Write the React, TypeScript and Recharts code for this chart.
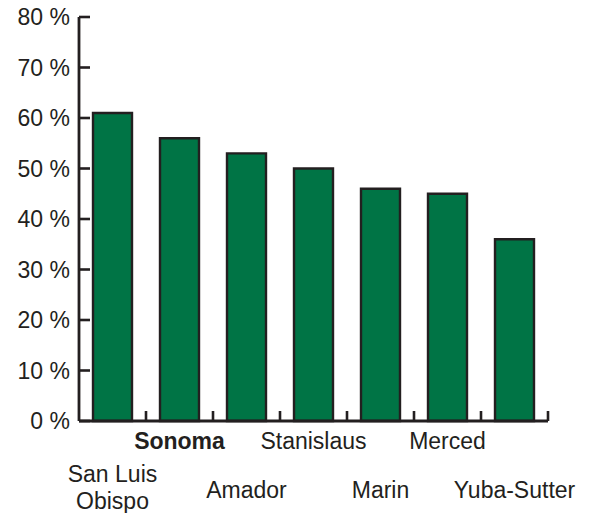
import React from "react";
import { BarChart, Bar, XAxis, YAxis } from "recharts";

const categories = ["San Luis Obispo", "Sonoma", "Amador", "Stanislaus", "Marin", "Merced", "Yuba-Sutter"];
const values = [61, 56, 53, 50, 46, 45, 36];
const yTicks = [0, 10, 20, 30, 40, 50, 60, 70, 80];
const labelLines: Record<string, string[]> = { "San Luis Obispo": ["San Luis", "Obispo"] };
const boldCategory = "Sonoma";

const data = categories.map((c, i) => ({ name: c, value: values[i] }));

const W = 592;
const H = 513;
const M = { top: 17, right: 44, bottom: 0, left: 0 };
const X_AXIS_H = 92;
const Y_AXIS_W = 79;
const AXIS_X = M.left + Y_AXIS_W;
const AXIS_Y = H - X_AXIS_H;
const PLOT_W = W - M.right - AXIS_X;
const BAND = PLOT_W / categories.length;
const INK = "#231f20";
const FONT = "'Liberation Sans', Arial, Helvetica, sans-serif";
const FS = 23;

const YTick = (props: any) => {
  const { y, payload } = props;
  return (
    <g>
      <line x1={AXIS_X} x2={AXIS_X + 11} y1={y} y2={y} stroke={INK} strokeWidth={2.6} />
      <text x={AXIS_X - 9} y={y} textAnchor="end" dominantBaseline="central" fontSize={FS} fontFamily={FONT} fill={INK}>
        {payload.value} %
      </text>
    </g>
  );
};

const XTick = (props: any) => {
  const { x, payload, index } = props;
  const name: string = payload.value;
  const lines = labelLines[name] || [name];
  const upper = index % 2 === 1;
  const bold = name === boldCategory;
  const lineH = 27;
  const baseY = upper ? 449 : lines.length > 1 ? 482 : 498;
  return (
    <g>
      <line x1={x + BAND / 2} x2={x + BAND / 2} y1={AXIS_Y} y2={AXIS_Y - 10} stroke={INK} strokeWidth={2.6} />
      <text textAnchor="middle" fontSize={FS} fontFamily={FONT} fill={INK} fontWeight={bold ? "bold" : "normal"}>
        {lines.map((l, i) => (
          <tspan key={i} x={x} y={baseY + i * lineH}>
            {l}
          </tspan>
        ))}
      </text>
    </g>
  );
};

export default function App() {
  return (
    <div style={{ position: "absolute", left: 0, top: 0, width: W, height: H, background: "#fff" }}>
      <BarChart width={W} height={H} data={data} margin={M} barCategoryGap="20%">
        <XAxis
          dataKey="name"
          interval={0}
          tickLine={false}
          axisLine={{ stroke: INK, strokeWidth: 2.8 }}
          tick={<XTick />}
          height={X_AXIS_H}
        />
        <YAxis
          domain={[0, 80]}
          ticks={yTicks}
          width={Y_AXIS_W}
          tickLine={false}
          axisLine={{ stroke: INK, strokeWidth: 2.8 }}
          tick={<YTick />}
          interval={0}
        />
        <Bar dataKey="value" fill="#007445" stroke={INK} strokeWidth={2.4} barSize={39} isAnimationActive={false} />
      </BarChart>
    </div>
  );
}
